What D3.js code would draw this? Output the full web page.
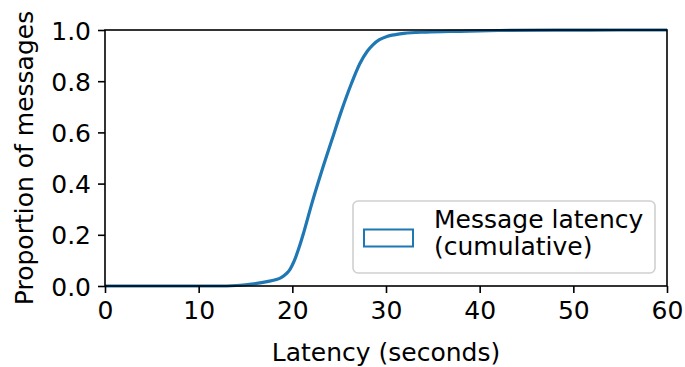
<!DOCTYPE html>
<html>
<head>
<meta charset="utf-8">
<script src="https://cdn.jsdelivr.net/npm/d3@7"></script>
<style>
  html, body { margin: 0; padding: 0; background: #fff; }
  svg { display: block; }
  text { font-family: "DejaVu Sans", sans-serif; fill: #000; }
</style>
</head>
<body>
<svg id="chart" width="685" height="367"></svg>
<script>
// ---- data ----
const latencySeconds = [0, 12, 14, 15, 16.2, 17.3, 18.3, 18.8, 19.2, 19.5, 19.75, 20.0, 20.3, 20.7, 21.2, 22.05, 23.1, 24.2, 25.25, 26.3, 27.2, 28.0, 28.6, 29.3, 30.1, 31.0, 31.9, 34.3, 37.9, 42, 48, 55, 60];
const cumulativeProportion = [0, 0, 0.002, 0.005, 0.01, 0.017, 0.025, 0.033, 0.043, 0.053, 0.065, 0.082, 0.107, 0.148, 0.207, 0.318, 0.444, 0.568, 0.685, 0.79, 0.868, 0.917, 0.942, 0.962, 0.975, 0.982, 0.987, 0.992, 0.995, 0.998, 0.9995, 1.0, 1.0];
const xTicks = [0, 10, 20, 30, 40, 50, 60];
const yTicks = [0.0, 0.2, 0.4, 0.6, 0.8, 1.0];
const legendLines = ["Message latency", "(cumulative)"];

const svg = d3.select("#chart");
const m = { left: 105, top: 30, right: 667, bottom: 286 };
const x = d3.scaleLinear().domain([0, 60]).range([m.left, m.right]);
const y = d3.scaleLinear().domain([0, 1]).range([m.bottom, m.top]);
const blue = "#1f77b4";
const fs = 25;

// curve
const pts = latencySeconds.map((v, i) => [v, cumulativeProportion[i]]);
svg.append("path")
  .datum(pts)
  .attr("fill", "none")
  .attr("stroke", blue)
  .attr("stroke-width", 3.2)
  .attr("stroke-linejoin", "round")
  .attr("d", d3.line().x(d => x(d[0])).y(d => y(d[1])).curve(d3.curveMonotoneX));

// axes
const xAxis = d3.axisBottom(x).tickValues(xTicks).tickFormat(d3.format("d")).tickSize(7).tickPadding(7);
const yAxis = d3.axisLeft(y).tickValues(yTicks).tickFormat(d3.format(".1f")).tickSize(7).tickPadding(7);

const gx = svg.append("g").attr("transform", `translate(0,${m.bottom})`).call(xAxis);
const gy = svg.append("g").attr("transform", `translate(${m.left},0)`).call(yAxis);
[gx, gy].forEach(g => {
  g.select(".domain").remove();
  g.selectAll(".tick line").attr("stroke", "#000").attr("stroke-width", 1.6);
  g.selectAll(".tick text").attr("font-size", fs).attr("font-family", "DejaVu Sans").attr("fill", "#000");
});
gx.selectAll(".tick text").attr("dy", "0.76em");
gy.selectAll(".tick text").attr("dy", "0.36em");

// frame
svg.append("rect")
  .attr("x", m.left).attr("y", m.top)
  .attr("width", m.right - m.left).attr("height", m.bottom - m.top)
  .attr("fill", "none").attr("stroke", "#000").attr("stroke-width", 1.6);

// axis labels
svg.append("text")
  .attr("x", (m.left + m.right) / 2).attr("y", 361)
  .attr("text-anchor", "middle").attr("font-size", fs)
  .text("Latency (seconds)");
svg.append("text")
  .attr("transform", `translate(33,${(m.top + m.bottom) / 2}) rotate(-90)`)
  .attr("text-anchor", "middle").attr("font-size", fs)
  .text("Proportion of messages");

// legend
const lg = svg.append("g");
lg.append("rect")
  .attr("x", 353).attr("y", 201).attr("width", 302).attr("height", 72)
  .attr("rx", 5).attr("fill", "#fff").attr("fill-opacity", 0.8)
  .attr("stroke", "#d0d0d0").attr("stroke-width", 1.6);
lg.append("rect")
  .attr("x", 364).attr("y", 229.5).attr("width", 49).attr("height", 17)
  .attr("fill", "none").attr("stroke", blue).attr("stroke-width", 2);
lg.selectAll("text.leg").data(legendLines).join("text")
  .attr("class", "leg")
  .attr("x", 434).attr("y", (d, i) => 228 + i * 27)
  .attr("font-size", fs)
  .text(d => d);
</script>
</body>
</html>
